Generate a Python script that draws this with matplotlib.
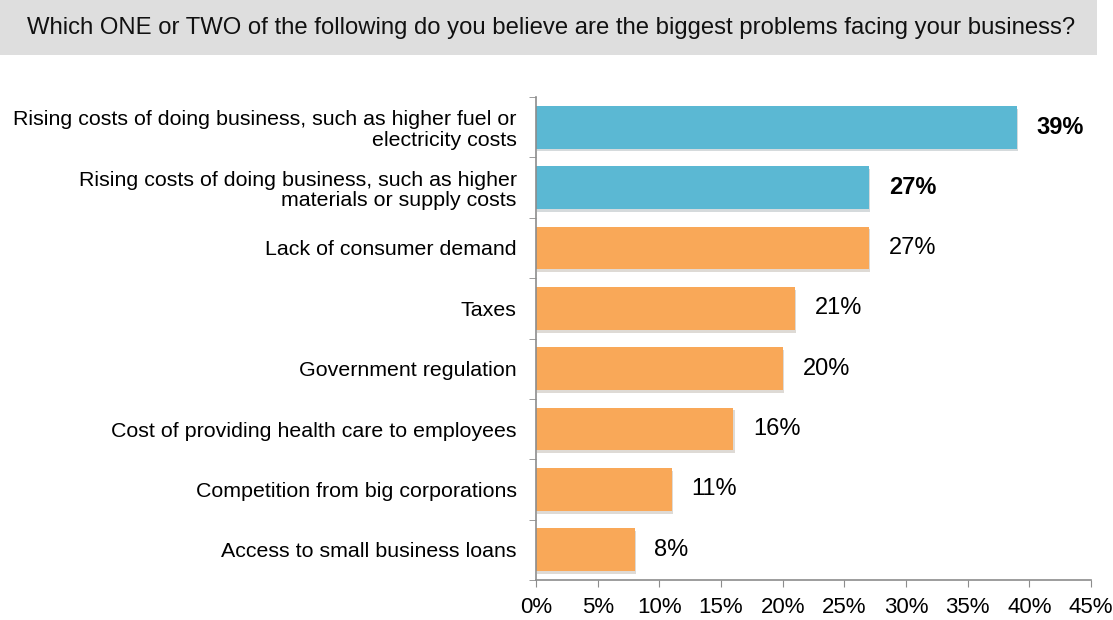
import matplotlib.pyplot as plt
import matplotlib.patheffects as pe
from matplotlib.patches import Rectangle

plt.rcParams['font.family'] = ['Liberation Sans', 'DejaVu Sans']

# Survey data
categories = [
    'Rising costs of doing business, such as higher fuel or\nelectricity costs',
    'Rising costs of doing business, such as higher\nmaterials or supply costs',
    'Lack of consumer demand',
    'Taxes',
    'Government regulation',
    'Cost of providing health care to employees',
    'Competition from big corporations',
    'Access to small business loans',
]
values = [39, 27, 27, 21, 20, 16, 11, 8]
highlight = [True, True, False, False, False, False, False, False]
xticks = [0, 5, 10, 15, 20, 25, 30, 35, 40, 45]

blue = '#5BB8D3'
orange = '#F9A858'
gray = '#8C8C8C'

fig = plt.figure(figsize=(11.13, 6.2), dpi=100)

# Question banner
fig.patches.append(Rectangle((0, 1 - 55 / 620), 1097 / 1113, 55 / 620,
                             transform=fig.transFigure, facecolor='#DEDEDE',
                             edgecolor='none', zorder=0))
fig.text(551 / 1113, 1 - 28 / 620,
         'Which ONE or TWO of the following do you believe are the biggest problems facing your business?',
         ha='center', va='center', fontsize=17.2, color='#111111')

ax = fig.add_axes([536 / 1113, 1 - 580 / 620, 555 / 1113, 483 / 620])

ypos = list(range(len(categories)))
colors = [blue if h else orange for h in highlight]
bars = ax.barh(ypos, values, height=0.71, color=colors, zorder=2)
for b in bars:
    b.set_path_effects([pe.SimplePatchShadow(offset=(1, -2), alpha=0.18), pe.Normal()])

for y, v, h in zip(ypos, values, highlight):
    ax.text(v + 1.6, y, f'{v}%', va='center', ha='left', fontsize=17,
            fontweight='bold' if h else 'normal', color='black')

ax.set_xlim(0, 45)
ax.set_ylim(len(categories) - 0.5, -0.5)
ax.set_xticks(xticks)
ax.set_xticklabels([f'{t}%' for t in xticks], fontsize=16)
ax.set_yticks(ypos)
ax.set_yticklabels(categories, fontsize=15.4, ha='right', linespacing=1.1)
ax.set_yticks([i - 0.5 for i in range(len(categories) + 1)], minor=True)

ax.tick_params(axis='y', which='major', length=0, pad=14)
ax.tick_params(axis='y', which='minor', length=5, color=gray, direction='out')
ax.tick_params(axis='x', which='major', length=5, color=gray, direction='out', pad=7)

for s in ['top', 'right']:
    ax.spines[s].set_visible(False)
for s in ['left', 'bottom']:
    ax.spines[s].set_color(gray)
    ax.spines[s].set_linewidth(1.2)

plt.savefig('out.png', dpi=100)
